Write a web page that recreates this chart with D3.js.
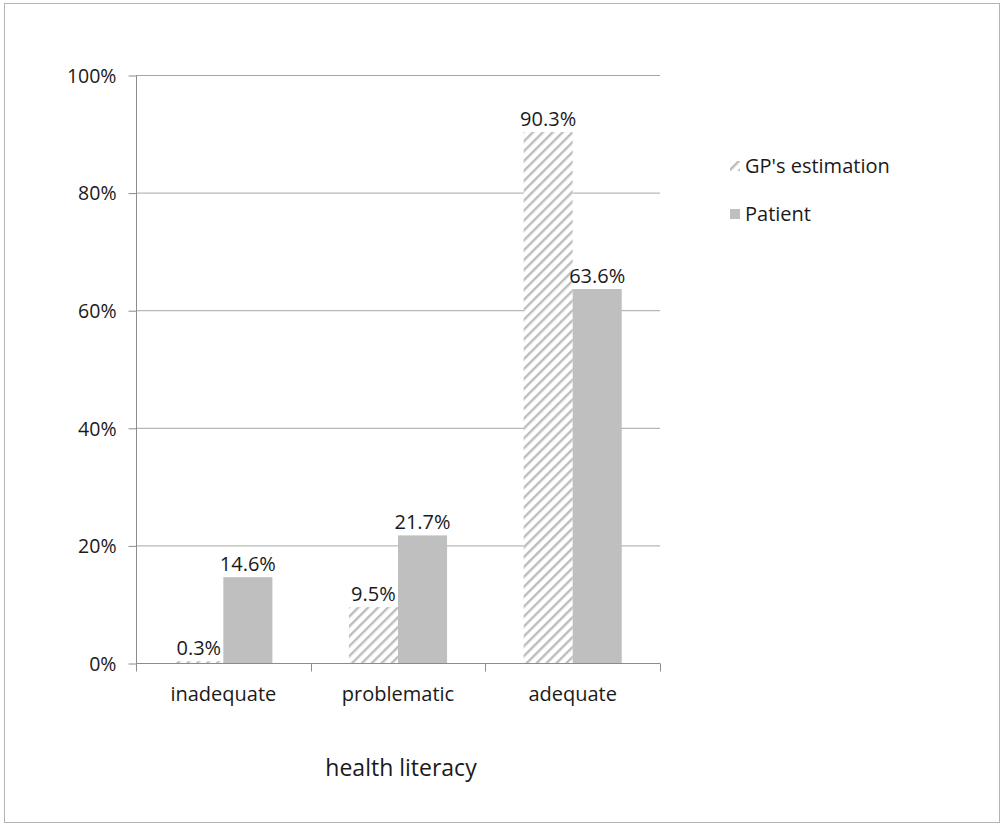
<!DOCTYPE html>
<html>
<head>
<meta charset="utf-8">
<title>health literacy</title>
<script src="https://cdnjs.cloudflare.com/ajax/libs/d3/7.8.5/d3.min.js"></script>
<style>
  body { margin: 0; background: #fff; }
  text { font-family: "Open Sans", "Noto Sans", sans-serif; fill: #1a1a1a; }
</style>
</head>
<body>
<div id="chart"></div>
<script>
const categories = ["inadequate", "problematic", "adequate"];
const seriesNames = ["GP's estimation", "Patient"];
const gpValues = [0.3, 9.5, 90.3];
const patientValues = [14.6, 21.7, 63.6];
const yTicks = [0, 20, 40, 60, 80, 100];

const width = 1002, height = 825;
const marginLeft = 136, marginRight = 342, marginTop = 75, marginBottom = 162;

const svg = d3.select("#chart").append("svg")
    .attr("width", width)
    .attr("height", height);

// outer frame
svg.append("rect")
    .attr("x", 4.5).attr("y", 3.5)
    .attr("width", 995).attr("height", 819)
    .attr("fill", "none")
    .attr("stroke", "#b3b3b3");

// hatch pattern
const defs = svg.append("defs");
const pat = defs.append("pattern")
    .attr("id", "hatch")
    .attr("patternUnits", "userSpaceOnUse")
    .attr("width", 7).attr("height", 7)
    .attr("patternTransform", "rotate(45)");
pat.append("rect").attr("width", 7).attr("height", 7).attr("fill", "#fff");
pat.append("rect").attr("x", 0).attr("width", 2.4).attr("height", 7).attr("fill", "#bdbdbd");

const x0 = d3.scaleBand()
    .domain(categories)
    .range([marginLeft, width - marginRight])
    .paddingInner(0).paddingOuter(0);

const x1 = d3.scaleBand()
    .domain(seriesNames)
    .range([0, x0.bandwidth()])
    .paddingOuter(0.78);

const y = d3.scaleLinear()
    .domain([0, 100])
    .range([height - marginBottom, marginTop]);

// gridlines
svg.append("g")
    .selectAll("line")
    .data(yTicks.slice(1))
    .join("line")
    .attr("x1", marginLeft).attr("x2", width - marginRight)
    .attr("y1", d => y(d) + 0.5).attr("y2", d => y(d) + 0.5)
    .attr("stroke", "#a6a6a6");

// y axis
const yAxis = svg.append("g")
    .attr("transform", "translate(" + (marginLeft + 0.5) + ",0.5)")
    .call(d3.axisLeft(y).tickValues(yTicks).tickSize(8).tickPadding(12)
        .tickFormat(d => d + "%"));
yAxis.selectAll("line, path").attr("stroke", "#8c8c8c");
yAxis.select(".domain").attr("d", "M0," + y(100) + "V" + y(0));
yAxis.selectAll("text").style("font-size", "19.5px").attr("dy", "0.35em");

// bars
const rows = categories.map((c, i) => ({cat: c, vals: [gpValues[i], patientValues[i]]}));
const groups = svg.append("g").selectAll("g")
    .data(rows)
    .join("g")
    .attr("transform", d => "translate(" + x0(d.cat) + ",0)");

groups.selectAll("rect")
    .data(d => d.vals.map((v, j) => ({name: seriesNames[j], v: v})))
    .join("rect")
    .attr("x", d => x1(d.name))
    .attr("y", d => y(d.v))
    .attr("width", x1.bandwidth())
    .attr("height", d => y(0) - y(d.v))
    .attr("fill", d => d.name === seriesNames[0] ? "url(#hatch)" : "#bfbfbf");

groups.selectAll("text")
    .data(d => d.vals.map((v, j) => ({name: seriesNames[j], v: v})))
    .join("text")
    .attr("x", d => x1(d.name) + x1.bandwidth() / 2)
    .attr("y", d => y(d.v) - 6)
    .attr("text-anchor", "middle")
    .style("font-size", "20px")
    .text(d => d.v.toFixed(1) + "%");

// x axis
const xAxisG = svg.append("g")
    .attr("transform", "translate(0," + (y(0) + 0.5) + ")");
xAxisG.append("line")
    .attr("x1", marginLeft).attr("x2", width - marginRight)
    .attr("stroke", "#8c8c8c");
xAxisG.selectAll(".sep")
    .data(d3.range(categories.length + 1))
    .join("line")
    .attr("class", "sep")
    .attr("x1", i => Math.round(marginLeft + i * x0.bandwidth()) + 0.5)
    .attr("x2", i => Math.round(marginLeft + i * x0.bandwidth()) + 0.5)
    .attr("y1", 0).attr("y2", 8)
    .attr("stroke", "#8c8c8c");
xAxisG.selectAll(".lbl")
    .data(categories)
    .join("text")
    .attr("class", "lbl")
    .attr("x", d => x0(d) + x0.bandwidth() / 2)
    .attr("y", 37)
    .attr("text-anchor", "middle")
    .style("font-size", "20px")
    .text(d => d);

// axis title
svg.append("text")
    .attr("x", 401).attr("y", 776)
    .attr("text-anchor", "middle")
    .style("font-size", "23px")
    .text("health literacy");

// legend
const legend = svg.append("g").attr("transform", "translate(730,0)");
const legY = [166, 214];
legend.selectAll("rect")
    .data(seriesNames)
    .join("rect")
    .attr("x", 0)
    .attr("y", (d, i) => legY[i] - 5)
    .attr("width", 10).attr("height", 10)
    .attr("fill", (d, i) => i === 0 ? "url(#hatch)" : "#bfbfbf");
legend.selectAll("text")
    .data(seriesNames)
    .join("text")
    .attr("x", 15)
    .attr("y", (d, i) => legY[i])
    .attr("dy", "0.35em")
    .style("font-size", "20px")
    .text(d => d);
</script>
</body>
</html>
